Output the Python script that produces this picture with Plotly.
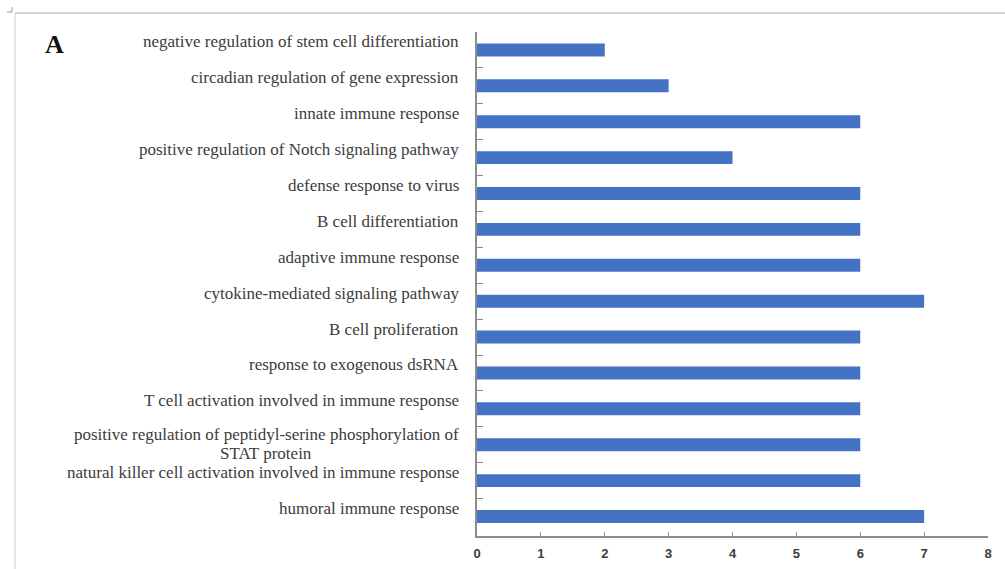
import plotly.graph_objects as go

# GO biological process terms, listed top to bottom
terms = [
    "negative regulation of stem cell differentiation",
    "circadian regulation of gene expression",
    "innate immune response",
    "positive regulation of Notch signaling pathway",
    "defense response to virus",
    "B cell differentiation",
    "adaptive immune response",
    "cytokine-mediated signaling pathway",
    "B cell proliferation",
    "response to exogenous dsRNA",
    "T cell activation involved in immune response",
    "positive regulation of peptidyl-serine phosphorylation of<br>STAT protein",
    "natural killer cell activation involved in immune response",
    "humoral immune response",
]
gene_counts = [2, 3, 6, 4, 6, 6, 6, 7, 6, 6, 6, 6, 6, 7]
x_ticks = [0, 1, 2, 3, 4, 5, 6, 7, 8]

W, H = 1005, 569
L, R, T, B = 477, 17, 32, 33
pw, ph = W - L - R, H - T - B

def px(xp):
    return (xp - L) / pw

def py(yp):
    return 1 - (yp - T) / ph

axis_col = "#8c8c8c"
text_col = "#3c3c3c"
label_font = dict(family="Liberation Serif, Times New Roman, serif", size=17, color=text_col)
line_step = 19          # pixel spacing between wrapped label lines
wrap_center_px = 266    # horizontal centre used for continuation lines

fig = go.Figure(
    go.Bar(
        x=gene_counts,
        y=terms,
        orientation="h",
        marker=dict(color="#4472C4", line=dict(width=0)),
        hoverinfo="x",
    )
)

# category labels sit in the upper part of each band, right-aligned against the axis;
# continuation lines of a wrapped label are centred under the first line
for term in terms:
    lines = term.split("<br>")
    first_shift = 8 if len(lines) == 1 else 10
    for i, line in enumerate(lines):
        common = dict(
            y=term, yref="y", text=line, showarrow=False,
            yanchor="middle", yshift=first_shift - line_step * i, font=label_font,
        )
        if i == 0:
            fig.add_annotation(x=0, xref="x", xanchor="right", xshift=-16, **common)
        else:
            fig.add_annotation(x=px(wrap_center_px), xref="paper", xanchor="center", **common)

# panel letter
fig.add_annotation(
    x=px(54), y=py(44), xref="paper", yref="paper",
    text="<b>A</b>", showarrow=False, xanchor="center", yanchor="middle",
    font=dict(family="Liberation Serif, Times New Roman, serif", size=26, color="#111111"),
)

# chart-area border (top and left edges visible)
fig.add_shape(type="line", xref="paper", yref="paper",
              x0=px(15), x1=px(1010), y0=py(13), y1=py(13),
              line=dict(color="#d6d6d6", width=2))
fig.add_shape(type="line", xref="paper", yref="paper",
              x0=px(15), x1=px(15), y0=py(13), y1=py(575),
              line=dict(color="#dedede", width=1.5))
# small corner mark
fig.add_shape(type="line", xref="paper", yref="paper",
              x0=px(7), x1=px(12), y0=py(12), y1=py(12),
              line=dict(color="#9a9a9a", width=1))
fig.add_shape(type="line", xref="paper", yref="paper",
              x0=px(12), x1=px(12), y0=py(7), y1=py(12),
              line=dict(color="#9a9a9a", width=1))

fig.update_layout(
    width=W, height=H,
    margin=dict(l=L, r=R, t=T, b=B, autoexpand=False),
    paper_bgcolor="white", plot_bgcolor="white",
    bargap=0.64,
    showlegend=False,
)
fig.update_xaxes(
    range=[0, 8], tickvals=x_ticks, ticktext=[str(v) for v in x_ticks],
    showgrid=False, zeroline=False,
    showline=True, linecolor=axis_col, linewidth=1.5,
    ticks="inside", ticklen=4, tickcolor=axis_col, tickwidth=1,
    tickfont=dict(family="Liberation Sans, Arial, sans-serif", size=13, color=text_col, weight="bold"),
    ticklabelstandoff=5,
)
fig.update_yaxes(
    autorange="reversed", type="category",
    showgrid=False, zeroline=False,
    showline=True, linecolor=axis_col, linewidth=1.5,
    ticks="inside", tickson="boundaries", ticklen=6, tickcolor=axis_col, tickwidth=1,
    showticklabels=False,
)

fig.write_html("out.html")
